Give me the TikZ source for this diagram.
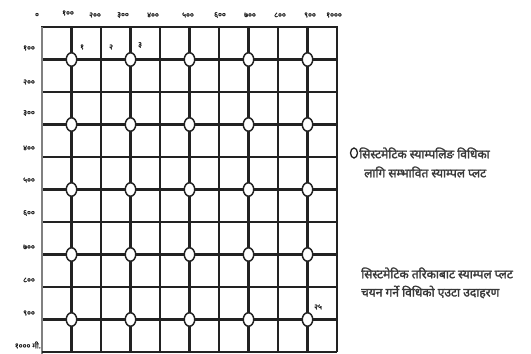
\documentclass[tikz,border=0pt]{standalone}
\usepackage{fontspec}
\usetikzlibrary{shapes.geometric}
\newfontfamily\deva[Script=Devanagari,AutoFakeBold=2.2]{Noto Sans}
\definecolor{ink}{HTML}{222222}
\begin{document}
\begin{tikzpicture}[x=1pt,y=-1pt,
  gridline/.style={line width=2.2pt, draw=ink},
  plotmark/.style={shape=ellipse, draw=ink, fill=white, line width=1.5pt, minimum width=10.5pt, minimum height=13.5pt, inner sep=0pt},
  num/.style={font=\deva\bfseries\fontsize{7.5}{8}\selectfont, text=ink, inner sep=0pt},
  note/.style={font=\deva\bfseries\fontsize{12}{14}\selectfont, text=ink!90, inner sep=0pt, anchor=west}]
\useasboundingbox (0,0) rectangle (531,354);
% grid
\foreach \i in {1,...,10} \draw[gridline] ({42+29.5*\i},27) -- ({42+29.5*\i},352);
\foreach \j in {1,...,9} \draw[gridline] (42,{27+32.5*\j}) -- (337,{27+32.5*\j});
\draw[gridline] (41,27) -- (338,27);
\draw[line width=1.5pt, draw=gray] (42,27) -- (42,354);
\draw[gridline] (42,352) -- (337,352);
% plot marks
\foreach \i in {1,3,5,7,9}
  \foreach \j in {1,3,5,7,9}
    \node[plotmark] (p-\i-\j) at ({42+29.5*\i},{27+32.5*\j}) {};
% top labels
\node[num] (t0) at (37,15) {०};
\node[num] (t1) at (68,13) {१००};
\node[num] (t2) at (95,15) {२००};
\node[num] (t3) at (123,15) {३००};
\node[num] (t4) at (153,15) {४००};
\node[num] (t5) at (188,15) {५००};
\node[num] (t6) at (220,15) {६००};
\node[num] (t7) at (250,15) {७००};
\node[num] (t8) at (280,15) {८००};
\node[num] (t9) at (310,15) {९००};
\node[num] (t10) at (334,15) {१०००};
% left labels
\node[num] (l1) at (29,48) {१००};
\node[num] (l2) at (29,82) {२००};
\node[num] (l3) at (29,113) {३००};
\node[num] (l4) at (29,148) {४००};
\node[num] (l5) at (29,180) {५००};
\node[num] (l6) at (29,213) {६००};
\node[num] (l7) at (29,247) {७००};
\node[num] (l8) at (29,280) {८००};
\node[num] (l9) at (29,313) {९००};
\node[num, anchor=east] (l10) at (41,345) {१००० मी.};
% plot numbers
\node[num] (n1) at (82,47) {१};
\node[num] (n2) at (111,47) {२};
\node[num] (n3) at (140,45) {३};
\node[num] (n25) at (318,307) {२५};
% notes
\node[plotmark, minimum width=7pt, minimum height=10pt, line width=1.3pt] (key) at (354,153) {};
\node[note] (a1) at (359,153) {सिस्टमेटिक स्याम्पलिङ विधिका};
\node[note] (a2) at (364,172) {लागि सम्भावित स्याम्पल प्लट};
\node[note] (b1) at (361,273) {सिस्टमेटिक तरिकाबाट स्याम्पल प्लट};
\node[note] (b2) at (361,292) {चयन गर्ने विधिको एउटा उदाहरण};
\end{tikzpicture}
\end{document}
